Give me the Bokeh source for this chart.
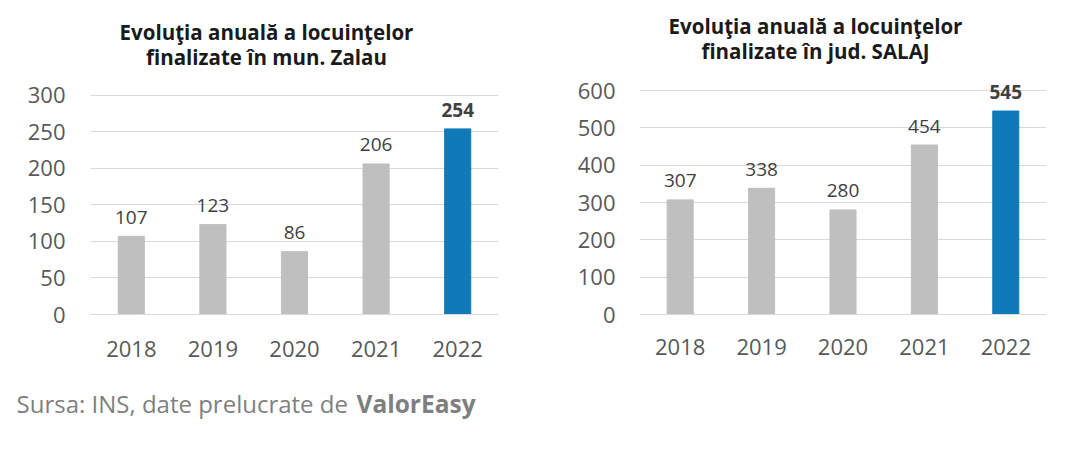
from bokeh.plotting import figure
from bokeh.models import ColumnDataSource, Label, FixedTicker, Range1d
from bokeh.layouts import row, column
from bokeh.embed import file_html
from bokeh.resources import INLINE
from bokeh.core.properties import value

# ---- data ----
years = ["2018", "2019", "2020", "2021", "2022"]
zalau_values = [107, 123, 86, 206, 254]
salaj_values = [307, 338, 280, 454, 545]
zalau_ticks = [0, 50, 100, 150, 200, 250, 300]
salaj_ticks = [0, 100, 200, 300, 400, 500, 600]
title_zalau = ["Evoluţia anuală a locuinţelor", "finalizate în mun. Zalau"]
title_salaj = ["Evoluţia anuală a locuinţelor", "finalizate în jud. SALAJ"]
source_text = "Sursa: INS, date prelucrate de "
source_bold = "ValorEasy"

GRAY = "#BFBFBF"
BLUE = "#0F7AB8"
FONT = "Open Sans"
CHART_H = 375


def make_chart(vals, ticks, titles, width, b_left, b_right, grid_top, grid_bottom,
               title_cx, title_baselines, ystand, xstand):
    # frame spans from the top of the canvas to the zero line; gridlines only at ticks
    frame_h = grid_bottom
    grid_h = grid_bottom - grid_top
    ymax = ticks[-1] * frame_h / grid_h
    b_bottom = CHART_H - frame_h
    colors = [GRAY] * (len(vals) - 1) + [BLUE]
    weights = ["normal"] * (len(vals) - 1) + ["bold"]
    labels = [str(v) for v in vals]
    src = ColumnDataSource(dict(x=years, top=vals, color=colors, label=labels, weight=weights))
    p = figure(x_range=years, y_range=Range1d(0, ymax), width=width, height=CHART_H,
               output_backend="svg", toolbar_location=None,
               min_border_left=b_left, min_border_right=b_right,
               min_border_top=0, min_border_bottom=b_bottom)
    p.outline_line_color = None
    p.vbar(x="x", top="top", width=0.32, color="color", source=src)
    p.text(x="x", y="top", text="label", source=src, text_align="center",
           text_baseline="alphabetic", y_offset=-19, text_font=value(FONT),
           text_font_size="19px", text_color="#404040", text_font_style="weight")
    p.yaxis.ticker = FixedTicker(ticks=ticks)
    p.yaxis.axis_line_color = None
    p.yaxis.major_tick_line_color = None
    p.yaxis.minor_tick_line_color = None
    p.yaxis.major_label_standoff = ystand
    p.yaxis.major_label_text_font = FONT
    p.yaxis.major_label_text_font_size = "22px"
    p.yaxis.major_label_text_color = "#595959"
    p.xaxis.axis_line_color = "#D9D9D9"
    p.xaxis.major_tick_line_color = None
    p.xaxis.minor_tick_line_color = None
    p.xaxis.major_label_standoff = xstand
    p.xaxis.major_label_text_font = FONT
    p.xaxis.major_label_text_font_size = "22px"
    p.xaxis.major_label_text_color = "#595959"
    p.xgrid.grid_line_color = None
    p.ygrid.grid_line_color = "#D9D9D9"
    p.ygrid.ticker = FixedTicker(ticks=ticks)
    frame_w = width - b_left - b_right

    def py(screen_y):
        return (frame_h - screen_y) / frame_h * ymax

    def px(screen_x):
        return (screen_x - b_left) / frame_w * len(years)

    for t, yy in zip(titles, title_baselines):
        p.add_layout(Label(x=px(title_cx), y=py(yy), text=t, text_align="center",
                           text_baseline="alphabetic", text_font=FONT, text_font_size="20.5px",
                           text_font_style="bold", text_color="#1A1A1A"))
    return p


p1 = make_chart(zalau_values, zalau_ticks, title_zalau, 540, 90, 42, 96, 318,
                266, [32, 57], 19, 20)
p2 = make_chart(salaj_values, salaj_ticks, title_salaj, 535, 99, 29, 90, 314,
                815 - 540, [25, 50], 18, 18)

FOOT_W, FOOT_H = 1075, 78
foot = figure(width=FOOT_W, height=FOOT_H, x_range=Range1d(0, FOOT_W), y_range=Range1d(0, FOOT_H),
              output_backend="svg", toolbar_location=None,
              min_border_left=0, min_border_right=0, min_border_top=0, min_border_bottom=0)
foot.axis.visible = False
foot.grid.grid_line_color = None
foot.outline_line_color = None
foot_base = FOOT_H - (403 - CHART_H)
foot.add_layout(Label(x=16, y=foot_base, text=source_text, text_align="left",
                      text_baseline="alphabetic", text_font=FONT, text_font_size="24px",
                      text_color="#7F7F7F"))
foot.add_layout(Label(x=356, y=foot_base, text=source_bold, text_align="left",
                      text_baseline="alphabetic", text_font=FONT, text_font_size="24.5px",
                      text_font_style="bold", text_color="#7F7F7F"))

layout = column(row(p1, p2), foot)
open("out.html", "w").write(file_html(layout, INLINE))
